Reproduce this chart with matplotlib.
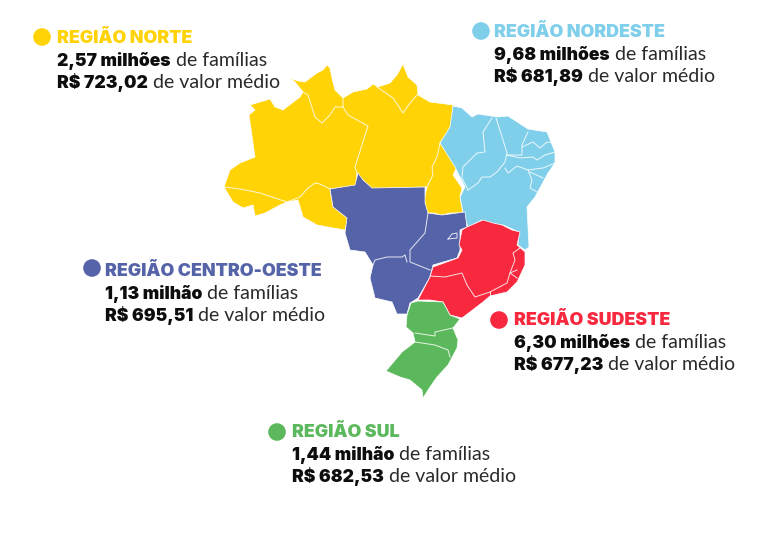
import matplotlib
matplotlib.use("Agg")
import matplotlib.pyplot as plt
from matplotlib.patches import Polygon, Circle

# ---- data ----
regioes = ["REGIÃO NORTE", "REGIÃO NORDESTE", "REGIÃO CENTRO-OESTE", "REGIÃO SUDESTE", "REGIÃO SUL"]
familias = ["2,57 milhões", "9,68 milhões", "1,13 milhão", "6,30 milhões", "1,44 milhão"]
valores = ["R$ 723,02", "R$ 681,89", "R$ 695,51", "R$ 677,23", "R$ 682,53"]
cores = ["#FFD305", "#7FCFEA", "#5563A8", "#F8293F", "#5CB85C"]
texto_x = [57, 494, 105, 514, 292]
texto_y = [43, 37, 276, 325, 437]
ponto_x = [42, 481, 92, 499, 277]
ponto_y = [37, 31, 268, 320, 432]

# ---- map geometry, in image pixels ----
norte = [(290,78),(298,81),(305,82),(317,73),(323,70),(327,65),(330,68),(332,78),(335,90),(343,98),(353,92),(367,89),(373,84),(378,87),(390,83),(397,75),(403,64),(408,77),(417,85),(418,95),(430,102),(453,105),(452,123),(448,132),(440,143),(447,152),(457,167),(453,175),(462,188),(460,197),(463,213),(450,213),(442,215),(433,213),(427,213),(424,200),(427,187),(370,189),(363,183),(357,173),(356,186),(330,189),(333,207),(345,212),(348,218),(345,230),(333,228),(317,225),(303,217),(298,200),(287,202),(280,205),(265,213),(255,216),(253,205),(243,208),(233,202),(224,187),(230,170),(240,163),(255,157),(249,115),(255,110),(250,105),(270,99),(275,107),(283,110),(300,97),(303,92),(295,82)]
nordeste = [(453,106),(462,108),(472,117),(478,114),(498,117),(508,116),(528,129),(547,132),(555,152),(555,163),(548,173),(535,197),(527,207),(528,227),(529,247),(525,250),(518,245),(519,232),(503,225),(487,223),(482,220),(468,227),(463,212),(460,197),(465,187),(455,167),(440,143),(450,127)]
centro = [(330,189),(355,185),(358,173),(363,180),(372,188),(425,187),(425,203),(428,213),(442,215),(465,212),(467,227),(460,230),(460,250),(457,258),(433,265),(430,277),(418,298),(410,303),(407,314),(397,314),(392,302),(375,298),(370,278),(373,265),(365,252),(350,250),(345,233),(347,218),(333,207)]
sudeste = [(418,300),(430,277),(433,267),(458,258),(462,250),(459,245),(462,230),(467,227),(483,220),(493,223),(502,225),(512,230),(520,232),(517,245),(525,252),(525,265),(517,282),(507,292),(490,296),(483,302),(462,318),(450,315),(443,302),(430,300)]
sul = [(407,315),(411,303),(418,301),(443,302),(450,315),(460,319),(453,328),(458,340),(457,348),(448,365),(437,377),(430,387),(423,398),(422,390),(410,380),(400,377),(386,371),(402,352),(415,342),(413,333),(406,327)]
contornos = [norte, nordeste, centro, sudeste, sul]

divisas = [
    [(224,187),(240,189),(260,193),(287,202)],
    [(287,202),(300,197),(308,188),(315,183),(320,184),(330,189)],
    [(303,92),(308,95),(315,117),(322,123),(330,115),(335,107),(343,107)],
    [(343,98),(343,107),(348,115),(368,126),(355,167),(357,173)],
    [(377,87),(393,98),(403,113),(410,103),(417,95)],
    [(440,143),(437,157),(432,167),(433,175),(427,187)],
    [(492,118),(483,132),(485,152),(477,153),(463,167),(462,178),(468,190)],
    [(496,118),(503,140),(507,153),(505,162),(497,172),(490,177),(482,177),(478,183),(468,190)],
    [(505,168),(508,173),(517,166),(528,170),(532,180),(530,188),(537,192)],
    [(528,132),(522,145),(522,155),(507,155)],
    [(507,155),(520,158),(533,157),(537,160),(545,155),(555,152)],
    [(522,147),(533,142),(540,148),(547,142),(553,143)],
    [(528,170),(543,168),(555,163)],
    [(530,172),(543,178)],
    [(428,213),(425,233),(410,250),(410,262),(430,270)],
    [(373,265),(375,260),(387,257),(402,257),(405,255),(407,262)],
    [(448,239),(452,234),(457,233),(457,238),(448,239)],
    [(430,276),(445,277),(462,273),(467,285),(475,297),(490,292),(507,283),(510,273),(517,270)],
    [(520,248),(513,253),(515,260),(510,273),(517,278)],
    [(490,292),(490,296)],
    [(415,333),(435,336),(435,332),(457,327)],
    [(415,342),(435,345),(448,350),(450,357)],
]

fig = plt.figure(figsize=(7.68, 5.53), dpi=100, facecolor="white")
ax = fig.add_axes([0, 0, 1, 1])
ax.set_xlim(0, 768)
ax.set_ylim(553, 0)
ax.axis("off")

for contorno, cor in zip(contornos, cores):
    ax.add_patch(Polygon(contorno, closed=True, facecolor=cor, edgecolor="white", linewidth=0.5, zorder=2, joinstyle="round"))
for d in divisas:
    xs, ys = zip(*d)
    ax.plot(xs, ys, color="white", lw=0.7, alpha=0.85, zorder=3, solid_joinstyle="round")

FAM_FORTE = "Inter"
FAM_FRACO = "Lato"
TAM_T = 12.8
TAM_F = 12.6
TAM_R = 14.0
renderer = fig.canvas.get_renderer()
LINHA = 22.5


def misto(x, y, forte, fraco):
    t = ax.text(x, y, forte, family=FAM_FORTE, weight="black", fontsize=TAM_F, color="#0d0d0d", va="baseline", ha="left")
    bb = t.get_window_extent(renderer)
    ax.text(bb.x1 + 5, y, fraco, family=FAM_FRACO, weight="regular", fontsize=TAM_R, color="#2a2a2a", va="baseline", ha="left")


for i, nome in enumerate(regioes):
    ax.add_patch(Circle((ponto_x[i], ponto_y[i]), 8.8, facecolor=cores[i], edgecolor="none", zorder=4))
    ax.text(texto_x[i], texto_y[i], nome, family=FAM_FORTE, weight="black", fontsize=TAM_T, color=cores[i], va="baseline", ha="left")
    misto(texto_x[i], texto_y[i] + LINHA + 0.5, familias[i], "de famílias")
    misto(texto_x[i], texto_y[i] + 2 * LINHA, valores[i], "de valor médio")

fig.savefig("out.png", dpi=100, facecolor="white")
